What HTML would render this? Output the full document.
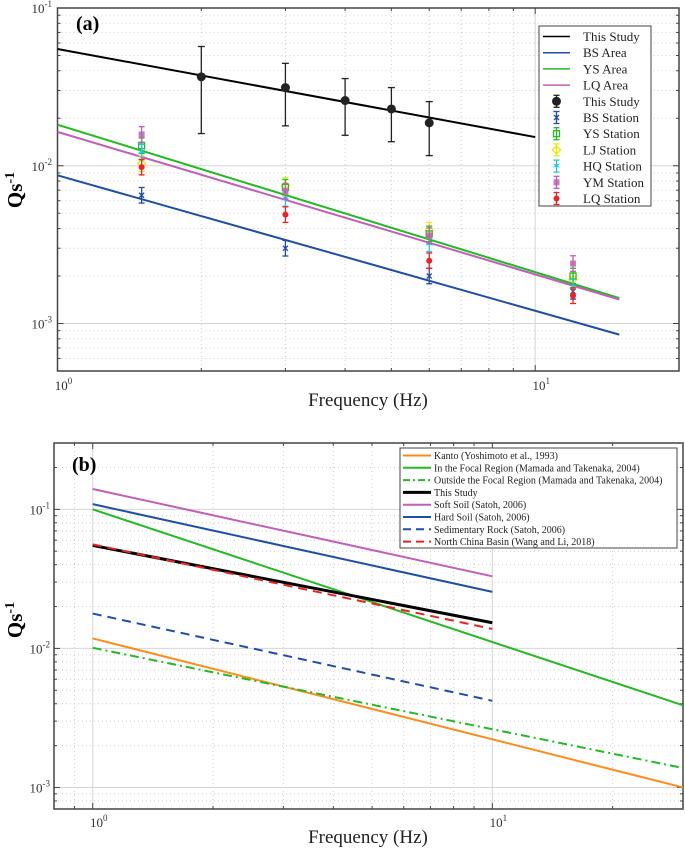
<!DOCTYPE html>
<html><head><meta charset="utf-8"><style>
html,body{margin:0;padding:0;background:#fff;}
svg{display:block;font-family:"Liberation Serif",serif;}
</style></head><body>
<svg id="fig" width="685" height="851" viewBox="0 0 685 851" xmlns="http://www.w3.org/2000/svg"></svg>
<script>
// ---- Panel (a) data ----
const aLineFreq = [1, 15];
const aLineThisStudyFreq = [1, 10];
const aThisStudyLine = [0.055, 0.0152];
const aBSArea = [0.0087, 0.00085];
const aYSArea = [0.0182, 0.00145];
const aLQArea = [0.0164, 0.00142];
const aStudyFreq = [2, 3, 4, 5, 6];
const aStudyVal = [0.0366, 0.0313, 0.0259, 0.0229, 0.0187];
const aStudyHi = [0.057, 0.0446, 0.0357, 0.0313, 0.0255];
const aStudyLo = [0.016, 0.0179, 0.0156, 0.0142, 0.0116];
const aStationFreq = [1.5, 3, 6, 12];
const aBSStation = [0.0065, 0.0030, 0.0020, 0.0016];
const aYSStation = [0.0134, 0.0073, 0.0037, 0.0020];
const aLJStation = [0.0103, 0.0075, 0.0039, 0.0019];
const aHQStation = [0.0122, 0.0062, 0.0032, 0.0017];
const aYMStation = [0.0158, 0.0069, 0.0036, 0.0024];
const aLQStation = [0.0098, 0.0049, 0.0025, 0.0015];
// ---- Panel (b) data ----
const bFreqShort = [1, 10];
const bFreqLong = [1, 30];
const bKanto = [0.0118, 0.001];
const bFocal = [0.10, 0.0039];
const bOutside = [0.0101, 0.00138];
const bThisStudy = [0.055, 0.0153];
const bSoftSoil = [0.14, 0.033];
const bHardSoil = [0.109, 0.0255];
const bSedRock = [0.0178, 0.0042];
const bNorthChina = [0.056, 0.0138];

const NS = "http://www.w3.org/2000/svg";
const fig = document.getElementById('fig');
function mk(tag, attrs, parent) {
  const e = document.createElementNS(NS, tag);
  for (const k in attrs) e.setAttribute(k, attrs[k]);
  (parent || fig).appendChild(e);
  return e;
}
function axisFn(x0, x1, lmin, lmax) {
  return v => x0 + (Math.log10(v) - lmin) / (lmax - lmin) * (x1 - x0);
}

function frame(P, name) {
  const g = mk('g', {});
  
  
  const X = P.X, Y = P.Y;
  for (let d = Math.floor(P.xl[0]); d <= Math.ceil(P.xl[1]); d++) {
    for (let m = 1; m <= 9; m++) {
      const v = m * Math.pow(10, d);
      if (Math.log10(v) <= P.xl[0] + 1e-9 || Math.log10(v) >= P.xl[1] - 1e-9) continue;
      const x = X(v);
      mk('line', {x1: x, x2: x, y1: P.t, y2: P.b, stroke: m === 1 ? '#d6d6d6' : '#cfcfcf', 'stroke-width': 1, 'stroke-dasharray': m === 1 ? '' : '1,3'}, g);
      const tl = m === 1 ? 6 : 3;
      mk('line', {x1: x, x2: x, y1: P.b, y2: P.b - tl, stroke: '#444'}, g);
      mk('line', {x1: x, x2: x, y1: P.t, y2: P.t + tl, stroke: '#444'}, g);
    }
  }
  for (let d = Math.floor(P.yl[0]); d <= Math.ceil(P.yl[1]); d++) {
    for (let m = 1; m <= 9; m++) {
      const v = m * Math.pow(10, d);
      if (Math.log10(v) <= P.yl[0] + 1e-9 || Math.log10(v) >= P.yl[1] - 1e-9) continue;
      const y = Y(v);
      mk('line', {x1: P.l, x2: P.r, y1: y, y2: y, stroke: m === 1 ? '#d6d6d6' : '#cfcfcf', 'stroke-width': 1, 'stroke-dasharray': m === 1 ? '' : '1,3'}, g);
      const tl = m === 1 ? 6 : 3;
      mk('line', {x1: P.l, x2: P.l + tl, y1: y, y2: y, stroke: '#444'}, g);
      mk('line', {x1: P.r, x2: P.r - tl, y1: y, y2: y, stroke: '#444'}, g);
    }
  }
  mk('rect', {x: P.l, y: P.t, width: P.r - P.l, height: P.b - P.t, fill: 'none', stroke: '#444', 'stroke-width': 1.5}, g);
}
function powTick(parent, x, y, exp, anchor, name) {
  const t = mk('text', {x: x, y: y, 'font-size': 13, fill: '#333', 'text-anchor': anchor}, parent);
  
  
  t.textContent = '10';
  const s = mk('tspan', {dy: -6, 'font-size': 9}, t);
  s.textContent = exp;
}
function line(P, xs, ys, color, w, dash, name) {
  const e = mk('line', {x1: P.X(xs[0]), y1: P.Y(ys[0]), x2: P.X(xs[1]), y2: P.Y(ys[1]), stroke: color, 'stroke-width': w, 'stroke-dasharray': dash || ''});
  
  
}
function marker(g, x, y, color, shape) {
  if (shape === 'dot') mk('circle', {cx: x, cy: y, r: 3, fill: color}, g);
  else if (shape === 'bigdot') mk('circle', {cx: x, cy: y, r: 4.5, fill: color}, g);
  else if (shape === 'sq') mk('rect', {x: x - 3, y: y - 3, width: 6, height: 6, fill: 'none', stroke: color, 'stroke-width': 1.3}, g);
  else if (shape === 'dia') mk('polygon', {points: `${x},${y-4} ${x+4},${y} ${x},${y+4} ${x-4},${y}`, fill: 'none', stroke: color, 'stroke-width': 1.3}, g);
  else if (shape === 'x') { mk('line', {x1: x-2.5, y1: y-2.5, x2: x+2.5, y2: y+2.5, stroke: color, 'stroke-width': 1.3}, g); mk('line', {x1: x-2.5, y1: y+2.5, x2: x+2.5, y2: y-2.5, stroke: color, 'stroke-width': 1.3}, g); }
  else if (shape === 'star') mk('text', {x: x, y: y + 4, 'font-size': 12, fill: color, 'text-anchor': 'middle'}, g).textContent = '✶';
  else if (shape === 'hex') mk('rect', {x: x - 3, y: y - 3, width: 6, height: 6, fill: color, opacity: 0.85}, g);
}
function errPoint(g, x, y, yh, yl, color, shape, cap) {
  mk('line', {x1: x, x2: x, y1: yh, y2: yl, stroke: color, 'stroke-width': 1.3}, g);
  mk('line', {x1: x - cap, x2: x + cap, y1: yh, y2: yh, stroke: color, 'stroke-width': 1.3}, g);
  mk('line', {x1: x - cap, x2: x + cap, y1: yl, y2: yl, stroke: color, 'stroke-width': 1.3}, g);
  marker(g, x, y, color, shape);
}

// ===== Panel A =====
const A = {l: 57.5, r: 679, t: 8, b: 371, xl: [0, Math.log10(20)], yl: [Math.log10(5e-4), -1]};
A.X = axisFn(A.l, A.r, A.xl[0], A.xl[1]);
A.Y = v => A.b - (Math.log10(v) - A.yl[0]) / (A.yl[1] - A.yl[0]) * (A.b - A.t);
frame(A, 'panel-a-axes');
const ga = mk('g', {});


powTick(ga, 52, A.Y(0.1) + 5, '-1', 'end', 'y-tick-a-1e-1');
powTick(ga, 52, A.Y(0.01) + 5, '-2', 'end', 'y-tick-a-1e-2');
powTick(ga, 52, A.Y(0.001) + 5, '-3', 'end', 'y-tick-a-1e-3');
powTick(ga, A.X(1) + 6, 390, '0', 'middle', 'x-tick-a-1');
powTick(ga, A.X(10) + 6, 390, '1', 'middle', 'x-tick-a-10');

line(A, aLineThisStudyFreq, aThisStudyLine, '#000', 2, '', 'this-study-line-a');
line(A, aLineFreq, aBSArea, '#1f4fa8', 2, '', 'bs-area-line');
line(A, aLineFreq, aYSArea, '#22bb22', 2, '', 'ys-area-line');
line(A, aLineFreq, aLQArea, '#c060b8', 2, '', 'lq-area-line');

const studyG = mk('g', {});


aStudyFreq.forEach((f, i) => errPoint(studyG, A.X(f), A.Y(aStudyVal[i]), A.Y(aStudyHi[i]), A.Y(aStudyLo[i]), '#222', 'bigdot', 3.5));

const stations = [
  ['bs-station', aBSStation, '#1f4fa8', 'x'],
  ['lj-station', aLJStation, '#f2e600', 'dia'],
  ['ys-station', aYSStation, '#22bb22', 'sq'],
  ['hq-station', aHQStation, '#1cc8e0', 'star'],
  ['ym-station', aYMStation, '#c060b8', 'hex'],
  ['lq-station', aLQStation, '#ee2222', 'dot'],
];
stations.forEach(s => {
  const g = mk('g', {});
  
  
  aStationFreq.forEach((f, i) => {
    const v = s[1][i];
    errPoint(g, A.X(f), A.Y(v), A.Y(v * 1.12), A.Y(v / 1.12), s[2], s[3], 3);
  });
});

const la = mk('g', {});


mk('rect', {x: 539, y: 26, width: 112, height: 180, fill: '#fff', stroke: '#444', 'stroke-width': 1}, la);
const aLeg = [
  ['This Study', '#000', 'line'], ['BS Area', '#1f4fa8', 'line'], ['YS Area', '#22bb22', 'line'], ['LQ Area', '#c060b8', 'line'],
  ['This Study', '#222', 'bigdot'], ['BS Station', '#1f4fa8', 'x'], ['YS Station', '#22bb22', 'sq'], ['LJ Station', '#f2e600', 'dia'],
  ['HQ Station', '#1cc8e0', 'star'], ['YM Station', '#c060b8', 'hex'], ['LQ Station', '#ee2222', 'dot']
];
aLeg.forEach((e, i) => {
  const y = 36.5 + i * 16.2;
  const eg = mk('g', {}, la);
  
  
  if (e[2] === 'line') mk('line', {x1: 543, x2: 570, y1: y, y2: y, stroke: e[1], 'stroke-width': 1.5}, eg);
  else errPoint(eg, 556.5, y, y - 6, y + 6, e[1], e[2], 3);
  const t = mk('text', {x: 583, y: y + 4.5, 'font-size': 13, fill: '#222'}, eg);
  t.textContent = e[0];
});
const labA = mk('text', {x: 76, y: 30, 'font-size': 20, 'font-weight': 'bold'});
  labA.textContent = '(a)';
const xa = mk('text', {x: 368, y: 406, 'font-size': 19, 'text-anchor': 'middle', fill: '#222'});
  xa.textContent = 'Frequency (Hz)';
const ya = mk('text', {x: 0, y: 0, 'font-size': 21, 'font-weight': 'bold', 'text-anchor': 'middle', transform: 'translate(22,190) rotate(-90)'});
 
ya.textContent = 'Qs'; mk('tspan', {dy: -8, 'font-size': 14}, ya).textContent = '-1';

// ===== Panel B =====
const B = {l: 54, r: 683, t: 443, b: 809, xl: [Math.log10(0.8), Math.log10(30)], yl: [Math.log10(7e-4), Math.log10(0.3)]};
B.X = axisFn(B.l, B.r, B.xl[0], B.xl[1]);
B.Y = v => B.b - (Math.log10(v) - B.yl[0]) / (B.yl[1] - B.yl[0]) * (B.b - B.t);
frame(B, 'panel-b-axes');
const gb = mk('g', {});


powTick(gb, 50, B.Y(0.1) + 5, '-1', 'end', 'y-tick-b-1e-1');
powTick(gb, 50, B.Y(0.01) + 5, '-2', 'end', 'y-tick-b-1e-2');
powTick(gb, 50, B.Y(0.001) + 5, '-3', 'end', 'y-tick-b-1e-3');
powTick(gb, B.X(1) + 6, 827, '0', 'middle', 'x-tick-b-1');
powTick(gb, B.X(10) + 6, 827, '1', 'middle', 'x-tick-b-10');

const bSeries = [
  ['Kanto (Yoshimoto et al., 1993)', bFreqLong, bKanto, '#ff8c1a', 2, '', 'kanto-line'],
  ['In the Focal Region (Mamada and Takenaka, 2004)', bFreqLong, bFocal, '#22bb22', 2, '', 'focal-region-line'],
  ['Outside the Focal Region (Mamada and Takenaka, 2004)', bFreqLong, bOutside, '#22bb22', 2, '9,4,2,4', 'outside-focal-line'],
  ['This Study', bFreqShort, bThisStudy, '#000', 3, '', 'this-study-line-b'],
  ['Soft Soil (Satoh, 2006)', bFreqShort, bSoftSoil, '#c060b8', 2, '', 'soft-soil-line'],
  ['Hard Soil (Satoh, 2006)', bFreqShort, bHardSoil, '#1f4fa8', 2, '', 'hard-soil-line'],
  ['Sedimentary Rock (Satoh, 2006)', bFreqShort, bSedRock, '#1f4fa8', 2, '9,6', 'sedimentary-rock-line'],
  ['North China Basin (Wang and Li, 2018)', bFreqShort, bNorthChina, '#ee2222', 2, '9,6', 'north-china-line'],
];
bSeries.forEach(s => line(B, s[1], s[2], s[3], s[4], s[5], s[6]));
const lb = mk('g', {});


mk('rect', {x: 400, y: 448, width: 277, height: 100, fill: '#fff', stroke: '#444', 'stroke-width': 1}, lb);
bSeries.forEach((s, i) => {
  const y = 455.5 + i * 12.3;
  const eg = mk('g', {}, lb);
  
  
  mk('line', {x1: 403, x2: 431, y1: y, y2: y, stroke: s[3], 'stroke-width': s[4], 'stroke-dasharray': s[5] ? (s[5] === '9,6' ? '8,5' : '7,3,2,3') : ''}, eg);
  const t = mk('text', {x: 434, y: y + 3.5, 'font-size': 10, fill: '#222'}, eg);
  t.textContent = s[0];
});
const labB = mk('text', {x: 72, y: 471, 'font-size': 20, 'font-weight': 'bold'});
  labB.textContent = '(b)';
const xb = mk('text', {x: 368, y: 843, 'font-size': 19, 'text-anchor': 'middle', fill: '#222'});
  xb.textContent = 'Frequency (Hz)';
const yb = mk('text', {x: 0, y: 0, 'font-size': 21, 'font-weight': 'bold', 'text-anchor': 'middle', transform: 'translate(22,620) rotate(-90)'});
 
yb.textContent = 'Qs'; mk('tspan', {dy: -8, 'font-size': 14}, yb).textContent = '-1';
</script>
</body></html>
